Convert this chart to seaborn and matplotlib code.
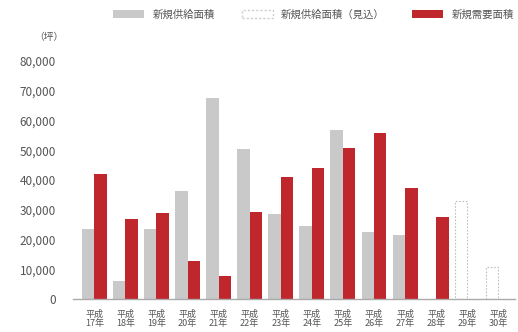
import numpy as np
import pandas as pd
import seaborn as sns
import matplotlib.pyplot as plt
from matplotlib.patches import Patch

# データ（坪）
years = ["平成\n17年", "平成\n18年", "平成\n19年", "平成\n20年", "平成\n21年", "平成\n22年", "平成\n23年",
         "平成\n24年", "平成\n25年", "平成\n26年", "平成\n27年", "平成\n28年", "平成\n29年", "平成\n30年"]
supply = [23500, 6000, 23500, 36500, 67500, 50400, 28500, 24500, 56800, 22500, 21500, 0, 33000, 10800]
demand = [42000, 27000, 29000, 12800, 7700, 29200, 41000, 44000, 50700, 56000, 37300, 27500, np.nan, np.nan]
forecast_idx = [12, 13]  # 見込

sns.set_theme(style="white")
plt.rcParams['font.family'] = ['Noto Sans CJK JP', 'DejaVu Sans']

df = pd.DataFrame({"年": years * 2,
                   "面積": supply + demand,
                   "種別": ["供給"] * len(years) + ["需要"] * len(years)})

fig = plt.figure(figsize=(5.18, 3.32), dpi=100)
ax = fig.add_axes([0.14, 0.099, 0.855, 0.717])
sns.barplot(data=df, x="年", y="面積", hue="種別", hue_order=["供給", "需要"],
            palette=["#c9c9c9", "#c0272d"], width=0.8, saturation=1, legend=False,
            linewidth=0, ax=ax)

for i in forecast_idx:
    p = ax.containers[0][i]
    p.set_facecolor("white")
    p.set_edgecolor("#b8c4b8")
    p.set_linestyle((0, (1.5, 1.5)))
    p.set_linewidth(0.8)

ax.set_ylim(0, 80000)
ax.set_xlim(-0.7, len(years) - 0.45)
ax.set_yticks(np.arange(0, 80001, 10000))
ax.set_yticklabels(["0"] + [f"{v:,}" for v in range(10000, 80001, 10000)], fontsize=8.5, color="#555555")
for lab in ax.get_xticklabels():
    lab.set_linespacing(1.0)
ax.tick_params(axis="x", labelsize=6.5, colors="#555555", pad=2)
ax.tick_params(axis="y", pad=6)
ax.set_xlabel("")
ax.set_ylabel("")
for s in ["top", "right", "left"]:
    ax.spines[s].set_visible(False)
ax.spines["bottom"].set_color("#aaaaaa")
ax.spines["bottom"].set_linewidth(1)

fig.text(0.095, 0.88, "（坪）", fontsize=7, color="#555555", ha="center")

handles = [Patch(facecolor="#c9c9c9", edgecolor="none", label="新規供給面積"),
           Patch(facecolor="white", edgecolor="#cccccc", linestyle=(0, (1.5, 1.5)), label="新規供給面積（見込）"),
           Patch(facecolor="#c0272d", edgecolor="none", label="新規需要面積")]
fig.legend(handles=handles, loc="upper right", bbox_to_anchor=(1.01, 1.0), ncol=3, frameon=False,
           fontsize=7.5, handlelength=3.0, handleheight=0.8, columnspacing=2.6, labelcolor="#555555")

fig.savefig("out.png", dpi=100, facecolor="white")
